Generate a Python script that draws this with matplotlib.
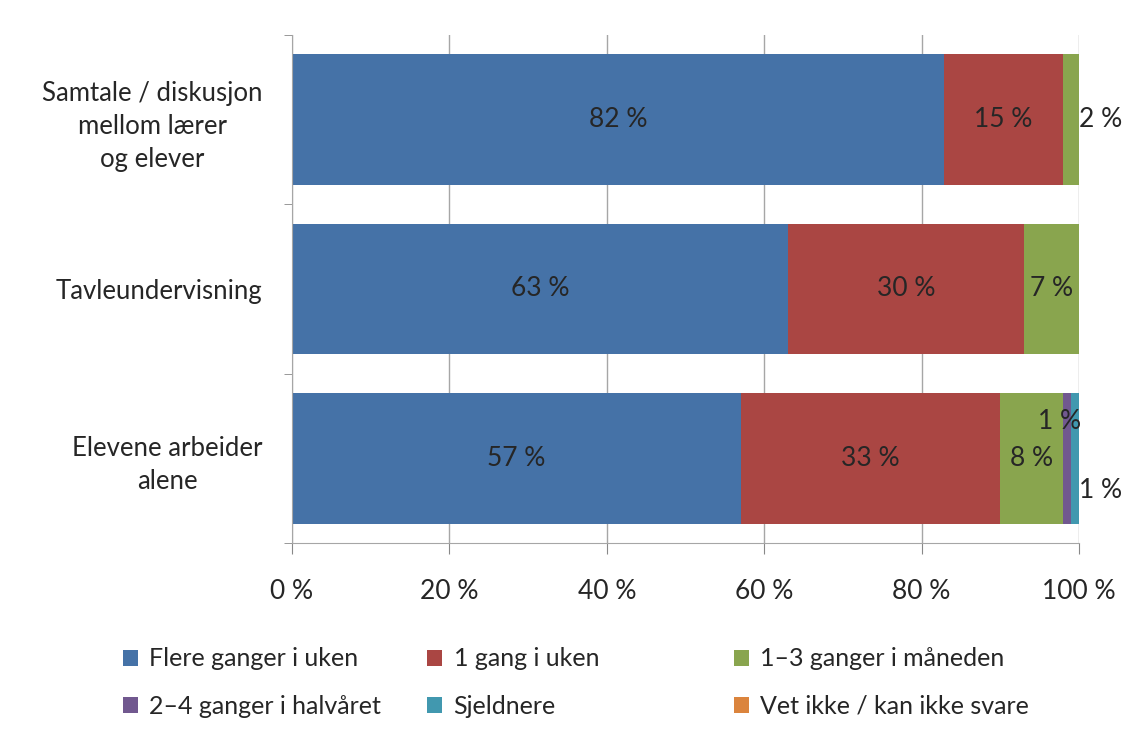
import matplotlib.pyplot as plt
import numpy as np

plt.rcParams['font.family'] = ['Lato', 'DejaVu Sans']

categories = ['Samtale / diskusjon\nmellom lærer\nog elever',
              'Tavleundervisning',
              'Elevene arbeider\nalene']
series_names = ['Flere ganger i uken', '1 gang i uken', '1–3 ganger i måneden',
                '2–4 ganger i halvåret', 'Sjeldnere', 'Vet ikke / kan ikke svare']
flere = [82, 63, 57]
en_gang = [15, 30, 33]
en_tre = [2, 7, 8]
to_fire = [0, 0, 1]
sjeldnere = [0, 0, 1]
vet_ikke = [0, 0, 0]
colors = ['#4572A7', '#AA4643', '#89A54E', '#71588F', '#4198AF', '#DB843D']
xticks = [0, 20, 40, 60, 80, 100]

raw = np.array([flere, en_gang, en_tre, to_fire, sjeldnere, vet_ikke], dtype=float)
shares = raw / raw.sum(axis=0) * 100   # 100 % stacked, like Excel

fig = plt.figure(figsize=(11.31, 7.31), dpi=100)
ax = fig.add_axes([0.2582, 0.2572, 0.6959, 0.695])

y = np.arange(len(categories))
left = np.zeros(len(categories))
txt_color = '#262626'
for k in range(len(series_names)):
    ax.barh(y, shares[k], left=left, height=0.77, color=colors[k],
            label=series_names[k], zorder=2)
    for i in range(len(categories)):
        v = raw[k, i]
        if v == 0:
            left[i] += shares[k, i]
            continue
        cx = left[i] + shares[k, i] / 2
        cy = y[i]
        if shares[k, i] < 4:
            # small segments: labels moved outside, as in the original
            if k == 3:
                cx, cy = left[i] - 0.5, y[i] - 0.22
            else:
                cx, cy = 102.7, y[i] + (0.19 if k == 4 else 0)
        ax.text(cx, cy, f'{int(v)} %', ha='center', va='center',
                fontsize=19, color=txt_color, zorder=3)
    left += shares[k]

ax.set_xlim(0, 100)
ax.set_ylim(len(categories) - 0.5, -0.5)
ax.set_xticks(xticks)
ax.set_xticklabels([f'{t} %' for t in xticks], fontsize=19, color=txt_color)
ax.tick_params(axis='x', length=8, pad=18, color='#888888')
ax.set_yticks(y)
ax.set_yticklabels(categories, fontsize=18.5, color=txt_color,
                   multialignment='center', linespacing=1.4)
ax.tick_params(axis='y', which='major', length=0, pad=21)
ax.set_yticks(np.arange(-0.5, len(categories)), minor=True)
ax.tick_params(axis='y', which='minor', length=6, color='#888888')
ax.grid(axis='x', color='#a6a6a6', linewidth=1, zorder=0)
ax.set_axisbelow(True)
for s in ['top', 'right']:
    ax.spines[s].set_visible(False)
for s in ['left', 'bottom']:
    ax.spines[s].set_color('#a6a6a6')

# legend: three columns placed like the original
handles, labels = ax.get_legend_handles_labels()
col_x = [0.100, 0.369, 0.640]
for c in range(3):
    idx = [c, c + 3]
    leg = fig.legend([handles[i] for i in idx], [labels[i] for i in idx],
                     loc='upper left', bbox_to_anchor=(col_x[c], 0.128),
                     frameon=False, fontsize=18, handlelength=0.6, handleheight=0.6,
                     handletextpad=0.45, labelspacing=0.97, borderaxespad=0)
    for t in leg.get_texts():
        t.set_color(txt_color)

fig.savefig('out.png', dpi=100)
